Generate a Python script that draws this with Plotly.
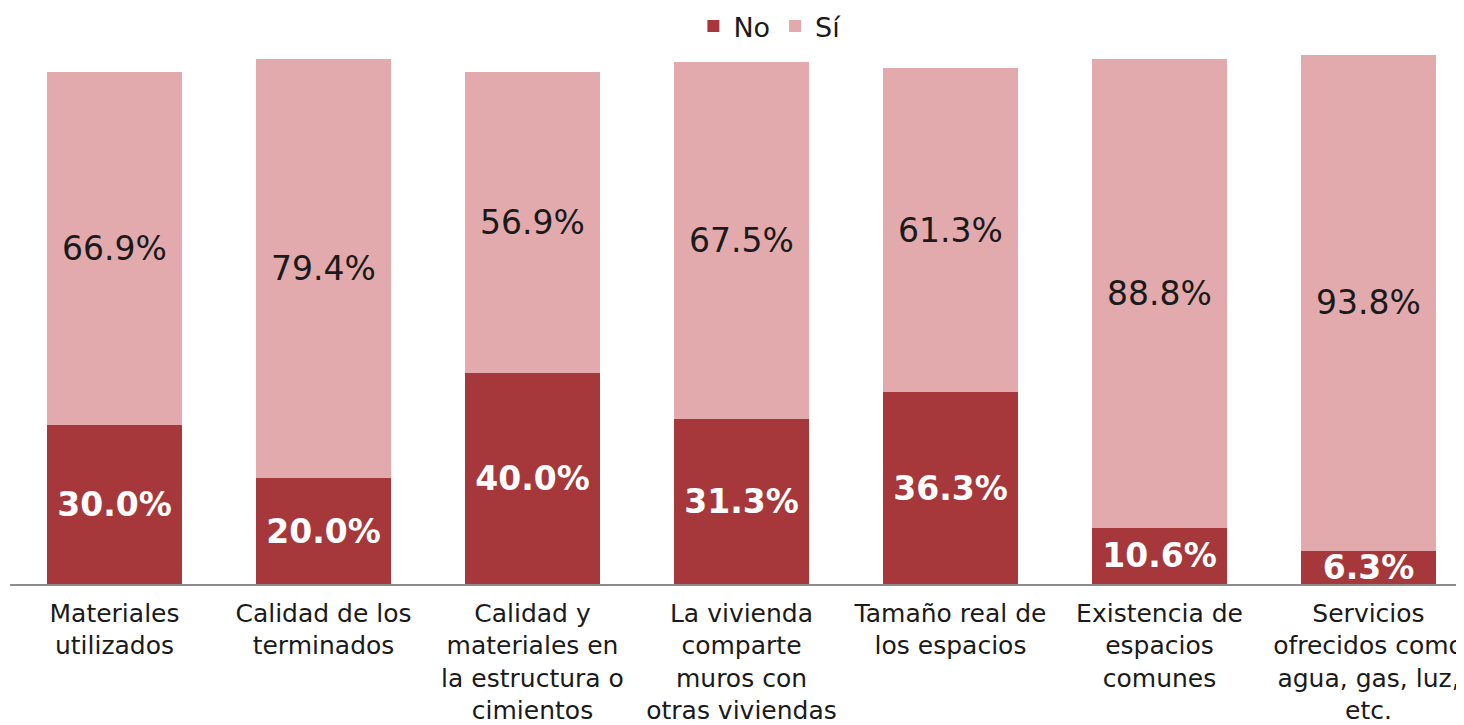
import plotly.graph_objects as go

categories = [
    "Materiales<br>utilizados",
    "Calidad de los<br>terminados",
    "Calidad y<br>materiales en<br>la estructura o<br>cimientos",
    "La vivienda<br>comparte<br>muros con<br>otras viviendas",
    "Tamaño real de<br>los espacios",
    "Existencia de<br>espacios<br>comunes",
    "Servicios<br>ofrecidos como<br>agua, gas, luz,<br>etc.",
]
no_values = [30.0, 20.0, 40.0, 31.3, 36.3, 10.6, 6.3]
si_values = [66.9, 79.4, 56.9, 67.5, 61.3, 88.8, 93.8]

FONT = "DejaVu Sans, Verdana, sans-serif"
x = list(range(len(categories)))

fig = go.Figure()
fig.add_trace(go.Bar(
    name="No", x=x, y=no_values,
    marker=dict(color="#A6383B", line=dict(width=0)),
    text=[f"{v:.1f}%" for v in no_values],
    textposition="inside", insidetextanchor="middle",
    constraintext="none",
    textfont=dict(family=FONT, size=33, color="white", weight="bold"),
))
fig.add_trace(go.Bar(
    name="Sí", x=x, y=si_values,
    marker=dict(color="#E2AAAD", line=dict(width=0)),
    text=[f"{v:.1f}%" for v in si_values],
    textposition="inside", insidetextanchor="middle",
    constraintext="none",
    textfont=dict(family=FONT, size=33, color="#1a1a1a"),
))

fig.update_layout(
    barmode="stack",
    bargap=0.35,
    width=1456, height=717,
    margin=dict(l=2, r=0, t=42, b=141, autoexpand=False),
    paper_bgcolor="white", plot_bgcolor="white",
    font=dict(family=FONT, color="#1a1a1a"),
    showlegend=True,
    legend=dict(
        orientation="h", x=0.47, xanchor="left", y=1.044, yanchor="middle",
        font=dict(family=FONT, size=27, color="#1a1a1a"),
        itemwidth=30, traceorder="normal",
        bgcolor="rgba(0,0,0,0)",
    ),
    xaxis=dict(
        range=[-0.5, 6.457],
        tickmode="array", tickvals=x, ticktext=categories,
        tickfont=dict(family=FONT, size=25, color="#1a1a1a"),
        ticklabeloverflow="allow", ticklabelstandoff=6,
        automargin=False,
        showline=True, linecolor="#8c8c8c", linewidth=1.5,
        ticks="", showgrid=False, zeroline=False,
    ),
    yaxis=dict(
        range=[0, 101.04], visible=False, showgrid=False, zeroline=False,
        automargin=False,
    ),
)

fig.write_html("out.html")
